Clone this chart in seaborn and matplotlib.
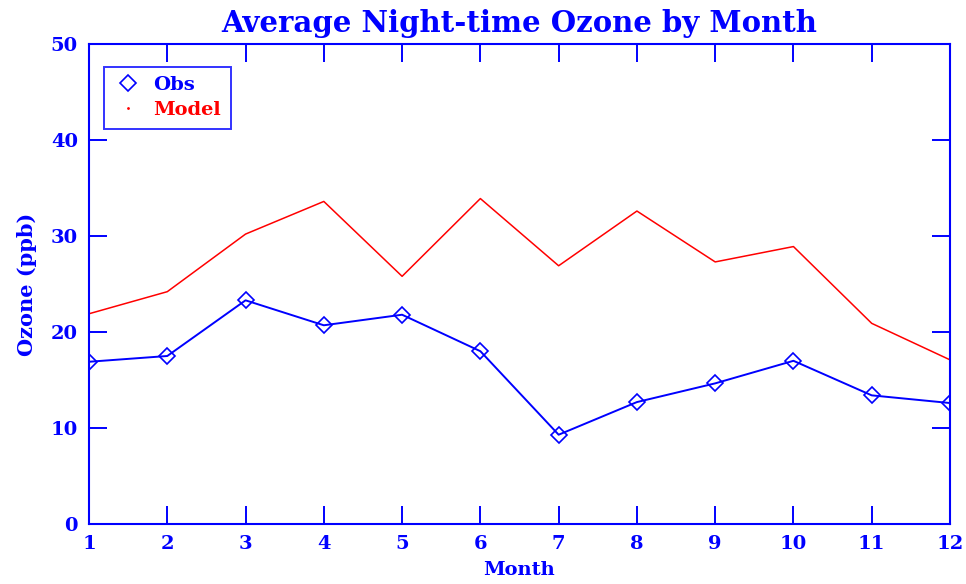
import matplotlib
matplotlib.use("Agg")
import matplotlib.pyplot as plt
from matplotlib.lines import Line2D
import seaborn as sns
import pandas as pd

months = [1, 2, 3, 4, 5, 6, 7, 8, 9, 10, 11, 12]
obs = [16.9, 17.5, 23.3, 20.7, 21.8, 18.0, 9.3, 12.7, 14.65, 17.0, 13.4, 12.6]
model = [21.9, 24.2, 30.2, 33.6, 25.8, 33.9, 26.9, 32.6, 27.3, 28.9, 20.9, 17.1]
yticks = [0, 10, 20, 30, 40, 50]

BLUE = "#0000ff"
RED = "#ff0000"

sns.set_style("white")
plt.rcParams["font.family"] = ["DejaVu Serif"]
plt.rcParams["font.weight"] = "bold"

df = pd.DataFrame({"Month": months, "Obs": obs, "Model": model})

fig = plt.figure(figsize=(9.66, 5.84), dpi=100)
ax = fig.add_axes([89 / 966, 60 / 584, 861 / 966, 480 / 584])

sns.lineplot(data=df, x="Month", y="Obs", ax=ax, color=BLUE, linewidth=1.4,
             marker="D", markersize=8, markerfacecolor="none",
             markeredgecolor=BLUE, markeredgewidth=1.2, legend=False)
sns.lineplot(data=df, x="Month", y="Model", ax=ax, color=RED, linewidth=1.1,
             legend=False)

ax.set_xlim(1, 12)
ax.set_ylim(0, 50)
ax.set_xticks(months)
ax.set_yticks(yticks)
ax.tick_params(axis="both", which="both", direction="in", length=13, width=1.4,
               color=BLUE, labelcolor=BLUE, labelsize=14, top=True, right=True,
               bottom=True, left=True, pad=8)
for sp in ax.spines.values():
    sp.set_color(BLUE)
    sp.set_linewidth(1.5)
    sp.set_visible(True)

ax.set_title("Average Night-time Ozone by Month", color=BLUE, fontsize=21,
             fontweight="bold", pad=9)
ax.set_xlabel("Month", color=BLUE, fontsize=14, fontweight="bold", labelpad=6)
ax.set_ylabel("Ozone (ppb)", color=BLUE, fontsize=15, fontweight="bold", labelpad=10)

handles = [
    Line2D([], [], linestyle="none", marker="D", markersize=8,
           markerfacecolor="none", markeredgecolor=BLUE, markeredgewidth=1.2),
    Line2D([], [], linestyle="none", marker=".", markersize=2, color=RED),
]
leg = ax.legend(handles=handles, labels=["Obs", "Model"], loc="upper left",
                bbox_to_anchor=(0.018, 0.953), borderaxespad=0, fontsize=14,
                frameon=True, fancybox=False, handlelength=1.4, handletextpad=0.6,
                labelspacing=0.35, borderpad=0.5)
leg.get_frame().set_edgecolor(BLUE)
leg.get_frame().set_linewidth(1.4)
texts = leg.get_texts()
texts[0].set_color(BLUE)
texts[1].set_color(RED)

fig.savefig("out.png", dpi=100, facecolor="white")
